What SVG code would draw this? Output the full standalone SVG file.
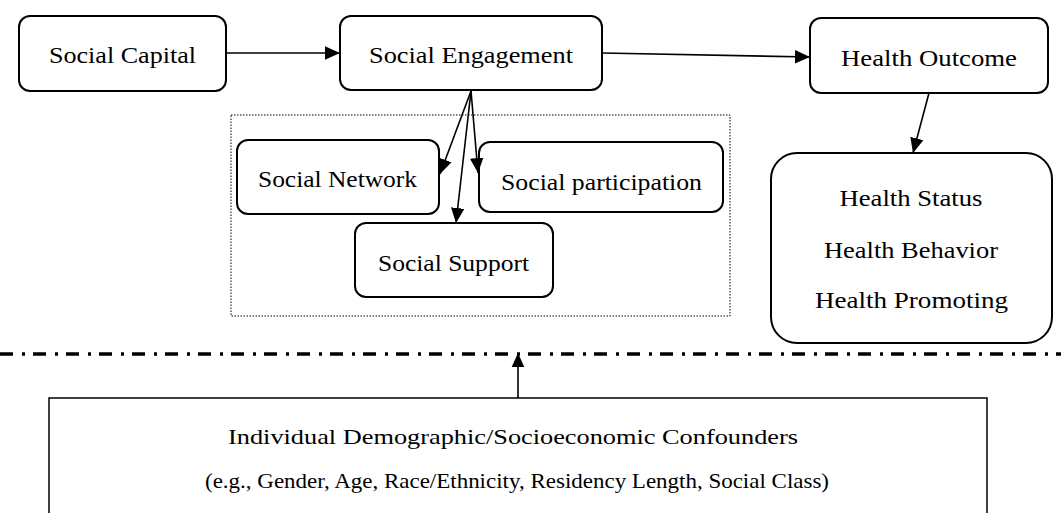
<svg xmlns="http://www.w3.org/2000/svg" width="1061" height="513" viewBox="0 0 1061 513">
<style>
.box{fill:#fff;stroke:#000;stroke-width:2}
.t{font-family:"Liberation Serif","DejaVu Serif",serif;font-size:24px;fill:#000;text-anchor:middle}
.s{font-size:22px}
.c{stroke:#000;stroke-width:1.6;fill:none}
</style>
<defs>
<marker id="ahb" viewBox="0 0 10 10" refX="10" refY="5" markerWidth="15" markerHeight="15" markerUnits="userSpaceOnUse" orient="auto">
<path d="M0,0.5 L10,5 L0,9.5 z" fill="#000"/>
</marker>
<marker id="ahs" viewBox="0 0 10 10" refX="10" refY="5" markerWidth="14" markerHeight="14" markerUnits="userSpaceOnUse" orient="auto">
<path d="M0,0.5 L10,5 L0,9.5 z" fill="#000"/>
</marker>
</defs>
<rect x="231" y="115" width="499" height="201" fill="none" stroke="#000" stroke-width="1" stroke-dasharray="1.5,1.5"/>
<line x1="0" y1="354" x2="1061" y2="354" stroke="#000" stroke-width="3.5" stroke-dasharray="13,9,3,8"/>
<g id="social-capital"><rect class="box" x="19" y="16" width="207" height="75" rx="11"/><text class="t" x="122.5" y="63" textLength="147" lengthAdjust="spacingAndGlyphs">Social Capital</text></g>
<g id="social-engagement"><rect class="box" x="340" y="16" width="262" height="74" rx="11"/><text class="t" x="471" y="63" textLength="204" lengthAdjust="spacingAndGlyphs">Social Engagement</text></g>
<g id="health-outcome"><rect class="box" x="810" y="18" width="238" height="75" rx="11"/><text class="t" x="929" y="66" textLength="176" lengthAdjust="spacingAndGlyphs">Health Outcome</text></g>
<g id="health-status"><rect class="box" x="771" y="153" width="281" height="190" rx="26"/>
<text class="t" x="911" y="206" textLength="143" lengthAdjust="spacingAndGlyphs">Health Status</text>
<text class="t" x="911" y="258" textLength="174" lengthAdjust="spacingAndGlyphs">Health Behavior</text>
<text class="t" x="911.5" y="308" textLength="193" lengthAdjust="spacingAndGlyphs">Health Promoting</text></g>
<g id="social-network"><rect class="box" x="237" y="140" width="202" height="74" rx="11"/><text class="t" x="337.5" y="187" textLength="159" lengthAdjust="spacingAndGlyphs">Social Network</text></g>
<g id="social-participation"><rect class="box" x="479" y="142" width="244" height="70" rx="11"/><text class="t" x="601.5" y="190" textLength="201" lengthAdjust="spacingAndGlyphs">Social participation</text></g>
<g id="social-support"><rect class="box" x="355" y="223" width="198" height="74" rx="11"/><text class="t" x="453.5" y="271" textLength="151" lengthAdjust="spacingAndGlyphs">Social Support</text></g>
<g id="confounders"><rect x="49" y="398" width="938" height="130" fill="#fff" stroke="#000" stroke-width="1.5"/>
<text class="t s" x="513" y="444" textLength="570" lengthAdjust="spacingAndGlyphs">Individual Demographic/Socioeconomic Confounders</text>
<text class="t s" x="517" y="488" textLength="624" lengthAdjust="spacingAndGlyphs">(e.g., Gender, Age, Race/Ethnicity, Residency Length, Social Class)</text></g>
<g id="connectors">
<line class="c" x1="226" y1="53" x2="340" y2="53" marker-end="url(#ahb)"/>
<line class="c" x1="602" y1="53" x2="810" y2="57" marker-end="url(#ahb)"/>
<line class="c" x1="929" y1="93" x2="913" y2="153" marker-end="url(#ahb)"/>
<line class="c" x1="471" y1="91" x2="440" y2="174" marker-end="url(#ahb)"/>
<line class="c" x1="471" y1="91" x2="456" y2="223" marker-end="url(#ahb)"/>
<line class="c" x1="471" y1="91" x2="478" y2="173" marker-end="url(#ahb)"/>
<line class="c" x1="518" y1="398" x2="518" y2="353" marker-end="url(#ahs)"/>
</g>
</svg>
